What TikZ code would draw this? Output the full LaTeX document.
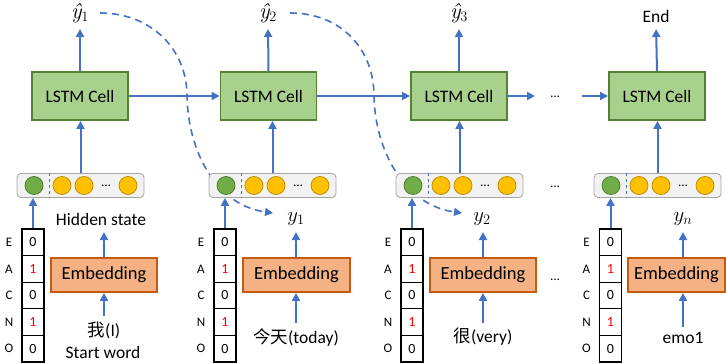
\documentclass[tikz,border=0pt]{standalone}
\usepackage{fontspec}
\setmainfont{Carlito}
\newfontfamily\cjk{Noto Sans CJK SC}
\newfontfamily\lmr{Latin Modern Roman}
\usetikzlibrary{arrows.meta}
\definecolor{lstmfill}{HTML}{A9D18E}
\definecolor{lstmdraw}{HTML}{548235}
\definecolor{embfill}{HTML}{F4B183}
\definecolor{embdraw}{HTML}{C55A11}
\definecolor{flowblue}{HTML}{4472C4}
\definecolor{barfill}{HTML}{F2F2F2}
\definecolor{bardraw}{HTML}{A6A6A6}
\definecolor{gfill}{HTML}{70AD47}
\definecolor{gdraw}{HTML}{507E32}
\definecolor{yfill}{HTML}{FFC000}
\definecolor{ydraw}{HTML}{BF9000}
% predicted output: italic y with circumflex and a subscript
\newcommand{\yhatlab}[1]{{\lmr\itshape ŷ}$_{#1}$}
\begin{document}
\begin{tikzpicture}[x=1pt,y=-1pt,
  lstmbox/.style={draw=lstmdraw, fill=lstmfill, line width=1.8pt, minimum width=96pt,
    minimum height=48pt, inner sep=0pt, font=\fontsize{17.5}{20}\selectfont},
  embbox/.style={draw=embdraw, fill=embfill, line width=1.8pt, minimum height=34pt,
    inner sep=0pt, font=\fontsize{18.5}{21}\selectfont},
  hbar/.style={draw=bardraw, fill=barfill, rounded corners=4pt, minimum width=127pt,
    minimum height=24pt, line width=0.8pt},
  gdot/.style={circle, draw=gdraw, fill=gfill, minimum size=18pt, inner sep=0pt, line width=0.8pt},
  ydot/.style={circle, draw=ydraw, fill=yfill, minimum size=18pt, inner sep=0pt, line width=0.8pt},
  vcell/.style={draw=black, minimum width=22pt, minimum height=26.6pt, inner sep=0pt,
    line width=1.1pt, font=\fontsize{14}{16}\selectfont},
  vlab/.style={font=\fontsize{13}{15}\selectfont, inner sep=0pt},
  flow/.style={draw=flowblue, line width=2pt, -{Triangle[length=8pt,width=8pt]}},
  hint/.style={draw=flowblue, line width=1.6pt, dash pattern=on 7pt off 5pt,
    -{Triangle[length=8pt,width=8pt]}},
  txt/.style={font=\fontsize{17.5}{20}\selectfont, inner sep=1pt},
  mlab/.style={font=\fontsize{22}{24}\selectfont, inner sep=1pt},
  ell/.style={font=\fontsize{13}{15}\selectfont, inner sep=0pt}]
\useasboundingbox (0,0) rectangle (726,364);

% outputs at the top
\node[mlab, anchor=south] (yh1) at (80,24) {\yhatlab{1}};
\node[mlab, anchor=south] (yh2) at (268,24) {\yhatlab{2}};
\node[mlab, anchor=south] (yh3) at (459,24) {\yhatlab{3}};
\node[txt, anchor=south]  (yh4) at (656,24) {End};

% feedback of each prediction into the next step (drawn first, the bars cover it)
\coordinate (c1s) at (100,13);
\coordinate (c1m) at (187,96);
\coordinate (c1e) at (273,213);
\coordinate (c2s) at (290,13);
\coordinate (c2m) at (374,96);
\coordinate (c2e) at (462,213);
\draw[hint] (c1s) .. controls +(52,0) and +(0,-46) .. (c1m)
  .. controls +(1,54) and +(-58,-8) .. (c1e);
\draw[hint] (c2s) .. controls +(52,0) and +(0,-46) .. (c2m)
  .. controls +(1,54) and +(-58,-8) .. (c2e);

% one column per time step
\foreach \i/\cx/\bx/\vx/\ex/\ew in
  {1/80/80.5/33/104/106,
   2/268.5/272.5/225/296.5/107,
   3/459/459.5/412/483/106,
   4/657/657.5/610.5/676.5/97}{
  \node[lstmbox] (lstm\i) at (\cx,96) {LSTM Cell};
  \node[hbar] (hs\i) at (\bx,185.5) {};
  \draw[flowblue, dashed, line width=0.8pt] ([xshift=33pt]hs\i.north west) -- ([xshift=33pt]hs\i.south west);
  \node[gdot] (g\i) at ([xshift=-46.5pt]hs\i.center) {};
  \node[ydot] (ya\i) at ([xshift=-18.5pt]hs\i.center) {};
  \node[ydot] (yb\i) at ([xshift=3.5pt]hs\i.center) {};
  \node[ell] (hd\i) at ([xshift=25.5pt]hs\i.center) {…};
  \node[ydot] (yc\i) at ([xshift=47.5pt]hs\i.center) {};
  \node[embbox, minimum width=\ew pt] (emb\i) at (\ex,275) {Embedding};
  \foreach \k/\v/\l/\c in {0/0/E/black,1/1/A/red,2/0/C/black,3/1/N/red,4/0/O/black}{
    \node[vcell, text=\c] (v\i-\k) at (\vx,242.3+26.6*\k) {\v};
    \node[vlab] (vl\i-\k) at (\vx-24,242.3+26.6*\k) {\l};
  }
  \draw[flow, shorten >=5pt] (lstm\i.north) -- (yh\i.south);
  \draw[flow] (hs\i.north) -- (hs\i.north |- lstm\i.south);
  \draw[flow] (v\i-0.north) -- (v\i-0.north |- hs\i.south);
}

% labels above and inputs below the embeddings
\node[txt, anchor=south] (lab1) at (101,227) {Hidden state};
\node[mlab, anchor=south] (lab2) at (296,227) {$y_1$};
\node[mlab, anchor=south] (lab3) at (482,227) {$y_2$};
\node[mlab, anchor=south] (lab4) at (683,227) {$y_n$};
\node[txt] (w1) at (104,330) {{\cjk 我}(I)};
\node[txt] (sw) at (103,352) {Start word};
\node[txt] (w2) at (296,337) {{\cjk 今天}(today)};
\node[txt] (w3) at (483,337) {{\cjk 很}(very)};
\node[txt] (w4) at (683,338) {emo1};
\foreach \i in {1,2,3,4}{
  \draw[flow, shorten <=4pt] (w\i.north) -- (w\i.north |- emb\i.south);
  \draw[flow, shorten >=5pt] (w\i.north |- emb\i.north) -- (w\i.north |- lab\i.south);
}

% recurrent links between the cells
\coordinate (h3end) at (535,96);
\coordinate (h4start) at (582,96);
\node[ell] (skipA) at (555,97) {…};
\node[ell] (skipB) at (555,187) {…};
\node[ell] (skipC) at (555,280) {…};
\draw[flow] (lstm1) -- (lstm2);
\draw[flow] (lstm2) -- (lstm3);
\draw[flow] (lstm3) -- (h3end);
\draw[flow] (h4start) -- (lstm4);
\end{tikzpicture}
\end{document}
